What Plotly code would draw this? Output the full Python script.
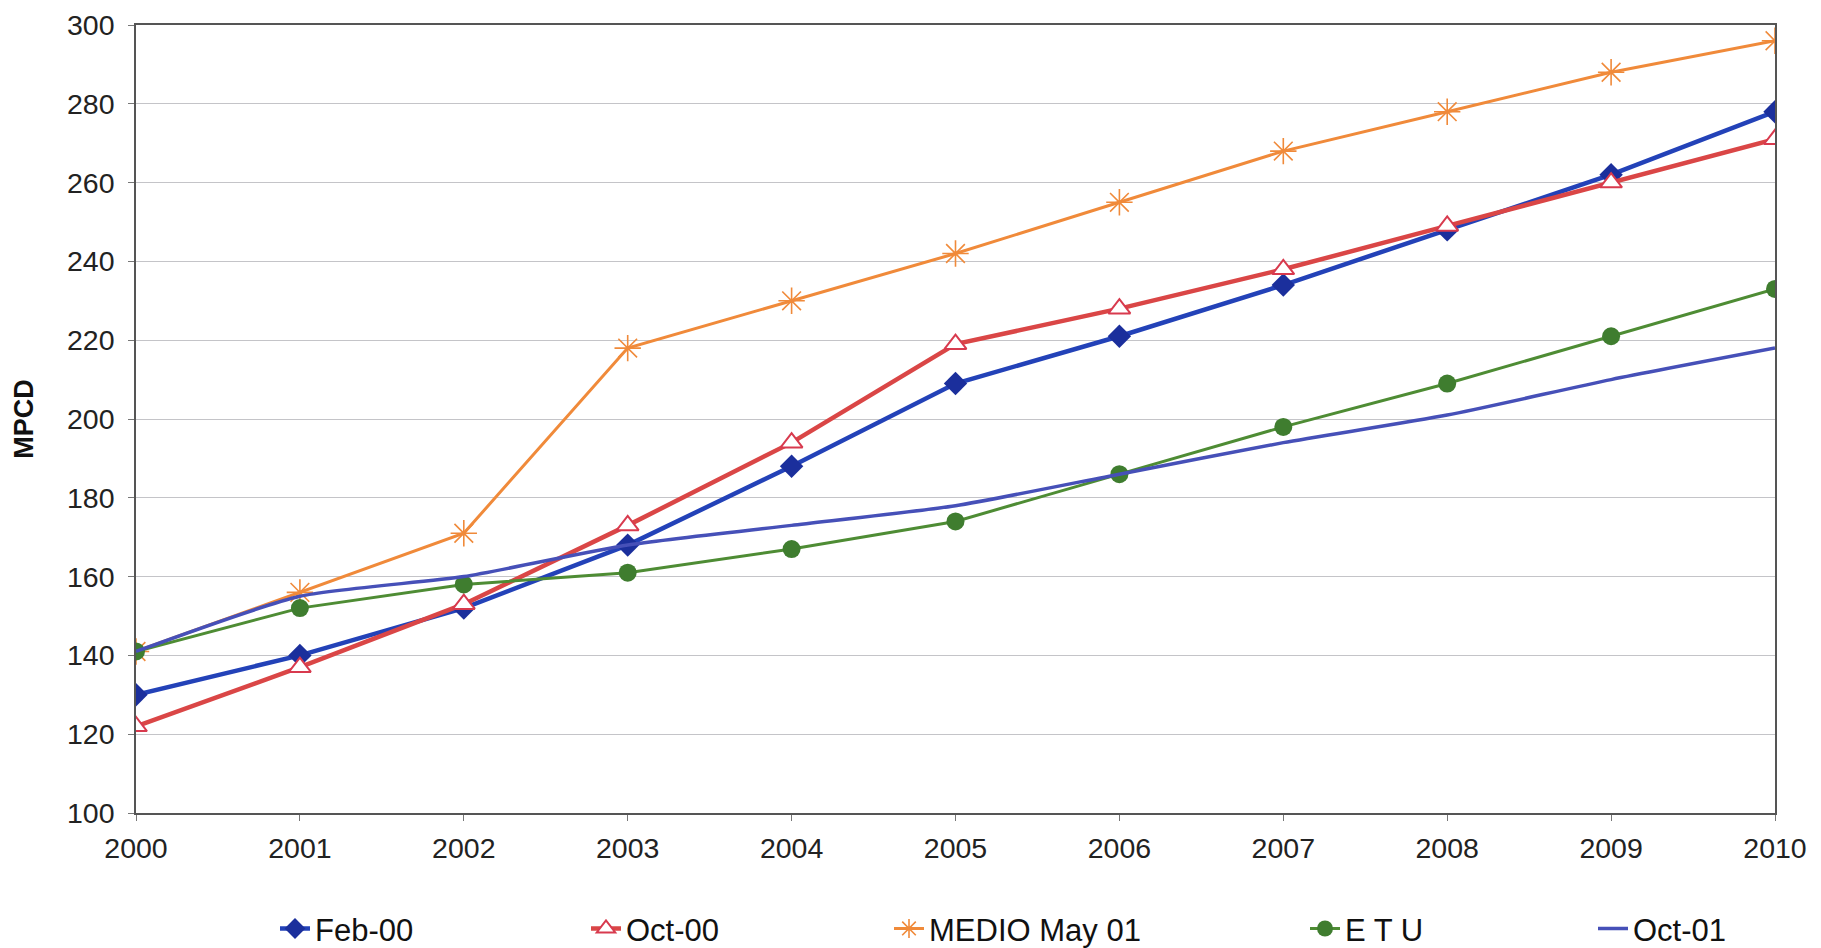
import plotly.graph_objects as go

# Years on the horizontal axis
years = [2000, 2001, 2002, 2003, 2004, 2005, 2006, 2007, 2008, 2009, 2010]

# Projection series (MPCD)
feb_00 = [130, 140, 152, 168, 188, 209, 221, 234, 248, 262, 278]
oct_00 = [122, 137, 153, 173, 194, 219, 228, 238, 249, 260, 271]
medio_may_01 = [141, 156, 171, 218, 230, 242, 255, 268, 278, 288, 296]
etu = [141, 152, 158, 161, 167, 174, 186, 198, 209, 221, 233]
oct_01 = [141, 155, 160, 168, 173, 178, 186, 194, 201, 210, 218]

series_names = ["Feb-00", "Oct-00", "MEDIO May 01", "E T U", "Oct-01"]
y_ticks = [100, 120, 140, 160, 180, 200, 220, 240, 260, 280, 300]

FONT = "Liberation Sans, Arial, sans-serif"

fig = go.Figure()

fig.add_trace(go.Scatter(
    x=years, y=feb_00, name=series_names[0], mode="lines+markers",
    line=dict(color="#2342B8", width=4.5),
    marker=dict(symbol="diamond", size=18, color="#1B2F9C",
                line=dict(width=0)),
    legend="legend",
))
fig.add_trace(go.Scatter(
    x=years, y=oct_00, name=series_names[1], mode="lines+markers",
    line=dict(color="#DA4646", width=4.5),
    marker=dict(symbol="triangle-up", size=19, color="white",
                line=dict(color="#D83A4E", width=2)),
    legend="legend2",
))
fig.add_trace(go.Scatter(
    x=years, y=medio_may_01, name=series_names[2], mode="lines+markers",
    line=dict(color="#F08A3A", width=3),
    marker=dict(symbol="asterisk-open", size=22,
                line=dict(color="#F07E3A", width=1.6)),
    legend="legend3",
))
fig.add_trace(go.Scatter(
    x=years, y=etu, name=series_names[3], mode="lines+markers",
    line=dict(color="#4E8C34", width=3),
    marker=dict(symbol="circle", size=18, color="#3F7D2F",
                line=dict(width=0)),
    legend="legend4",
))
fig.add_trace(go.Scatter(
    x=years, y=oct_01, name=series_names[4], mode="lines",
    line=dict(color="#4650B8", width=3.5, shape="spline", smoothing=0.6),
    legend="legend5",
))

# plot-area geometry in pixels
W, H = 1821, 948
L, R, T, B = 136, 46, 25, 135
pw = W - L - R


def legend_at(text_left_px):
    return dict(
        x=(text_left_px - 42 - L) / pw, xanchor="left",
        y=-0.147, yanchor="middle",
        orientation="h", bgcolor="rgba(0,0,0,0)",
        font=dict(family=FONT, size=31, color="#111"),
        itemwidth=30,
    )


fig.update_layout(
    width=W, height=H,
    margin=dict(l=L, r=R, t=T, b=B, autoexpand=False),
    paper_bgcolor="white", plot_bgcolor="white",
    font=dict(family=FONT, color="#222"),
    showlegend=True,
    legend=legend_at(317),
    legend2=legend_at(628),
    legend3=legend_at(931),
    legend4=legend_at(1347),
    legend5=legend_at(1635),
)

fig.update_xaxes(
    range=[2000, 2010], tickmode="array", tickvals=years,
    ticktext=[str(y) for y in years],
    showgrid=False, zeroline=False,
    showline=True, linecolor="#555", linewidth=1.5, mirror=True,
    ticks="outside", ticklen=6, tickcolor="#777",
    tickfont=dict(family=FONT, size=28.5, color="#222"),
    ticklabelstandoff=3,
)
fig.update_yaxes(
    range=[100, 300], tickmode="array", tickvals=y_ticks,
    showgrid=True, gridcolor="#C4C4C8", gridwidth=1, zeroline=False,
    showline=True, linecolor="#555", linewidth=1.5, mirror=True,
    ticks="outside", ticklen=6, tickcolor="#777",
    tickfont=dict(family=FONT, size=28.5, color="#222"),
    ticklabelstandoff=8,
    title=dict(text="<b>MPCD</b>", font=dict(family=FONT, size=27, color="#111"),
               standoff=26),
)

fig.write_html("out.html")
